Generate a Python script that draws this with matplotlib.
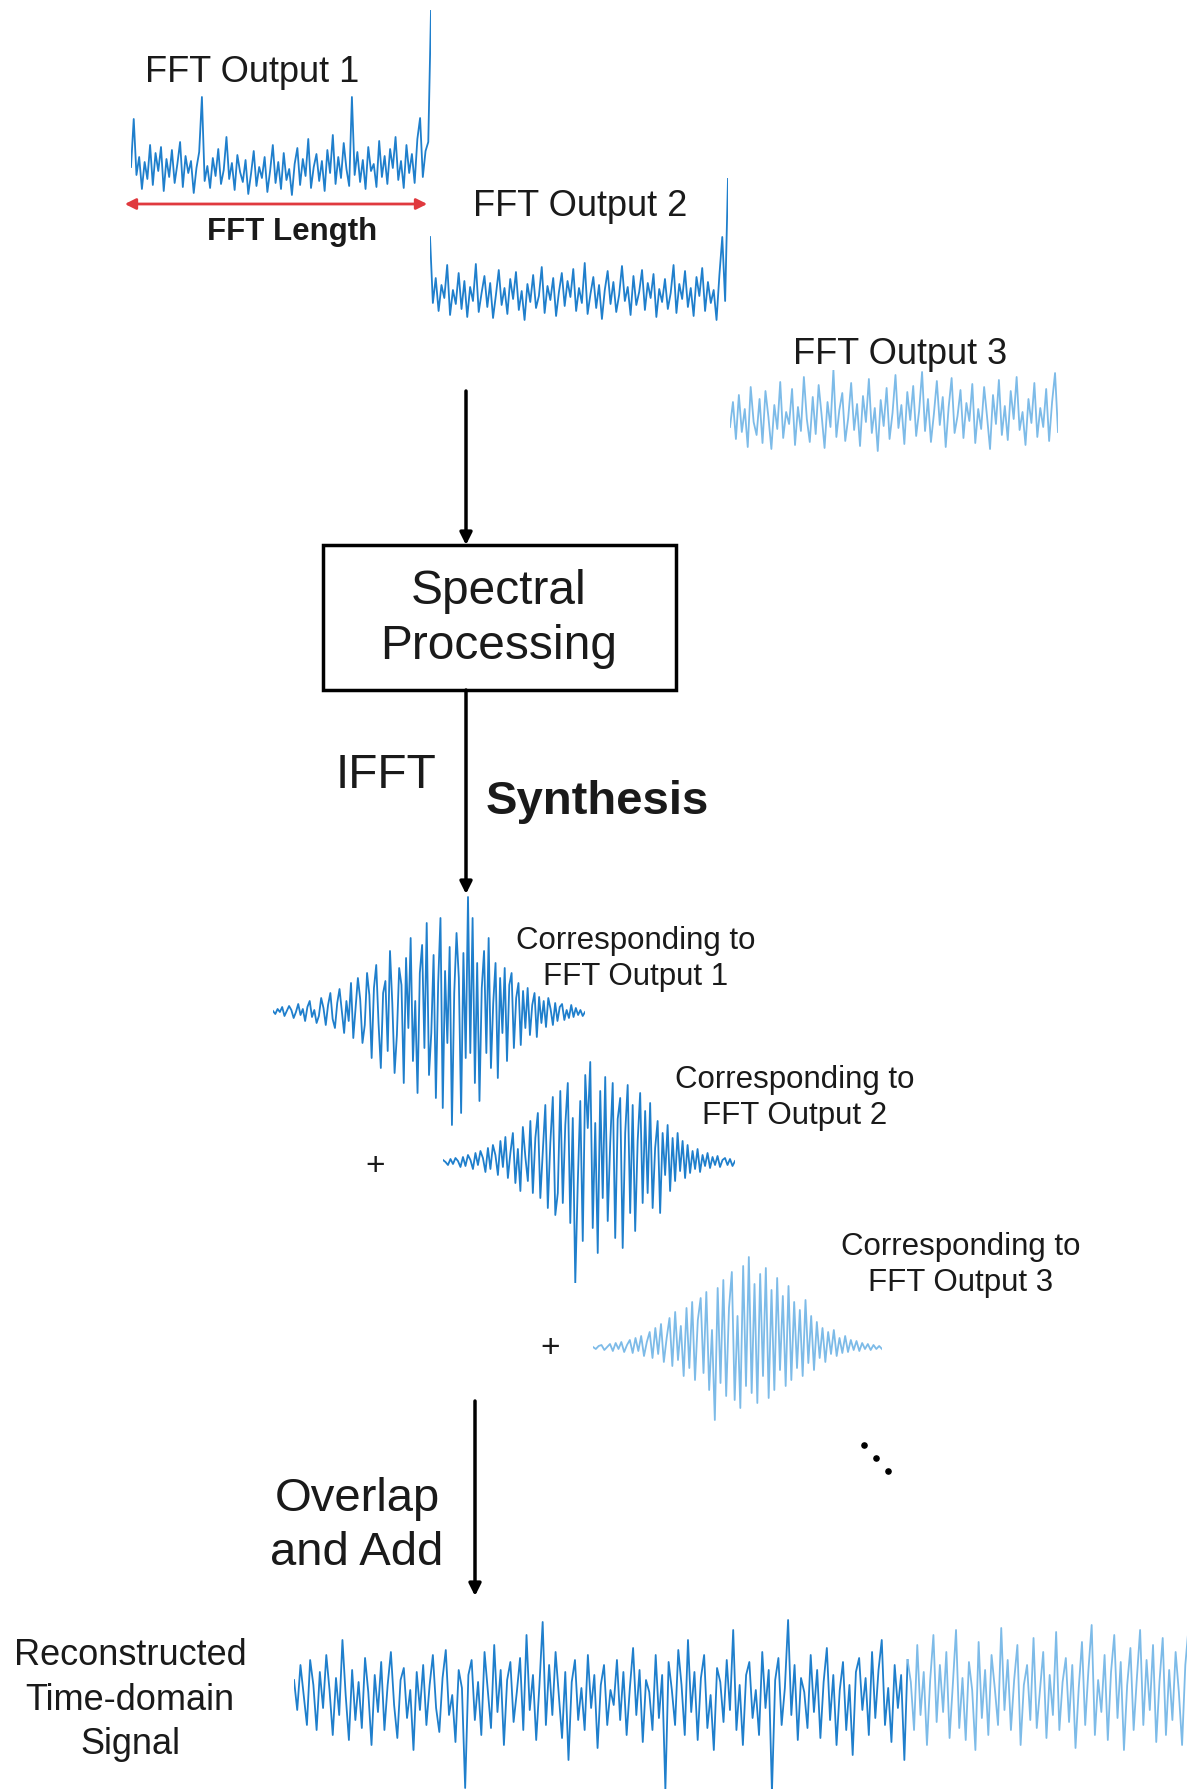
import matplotlib
matplotlib.use("Agg")
import matplotlib.pyplot as plt
from matplotlib.patches import Rectangle

plt.rcParams['font.family'] = ['Liberation Sans', 'DejaVu Sans']

# spectra magnitudes (arbitrary units)
fft1 = [30, 78, 22, 40, 8, 35, 18, 52, 12, 44, 26, 50, 6, 38, 20, 47, 14, 33, 55, 10,
        41, 24, 36, 4, 29, 45, 100, 16, 31, 9, 39, 21, 48, 13, 27, 60, 18, 34, 7, 42,
        25, 15, 37, 3, 23, 46, 11, 30, 19, 40, 5, 26, 52, 14, 35, 8, 44, 17, 28, 2,
        33, 49, 12, 38, 21, 58, 9, 30, 43, 16, 36, 6, 47, 24, 62, 13, 40, 19, 54, 28,
        11, 100, 22, 45, 15, 37, 8, 50, 26, 33, 10, 56, 20, 41, 13, 48, 29, 60, 17, 36,
        9, 52, 24, 43, 14, 58, 79, 20, 46, 55, 187]
fft2 = [86, 20, 45, 12, 38, 25, 58, 8, 33, 19, 50, 14, 42, 6, 36, 22, 59, 11, 30, 47,
        16, 40, 5, 28, 53, 18, 35, 9, 44, 24, 51, 13, 32, 3, 39, 21, 48, 15, 27, 56,
        10, 37, 23, 45, 7, 31, 50, 17, 42, 26, 54, 12, 35, 20, 60, 9, 29, 46, 15, 38,
        4, 33, 52, 19, 41, 11, 28, 57, 22, 36, 8, 47, 18, 31, 53, 13, 40, 25, 49, 6,
        34, 21, 44, 14, 30, 58, 10, 39, 24, 52, 16, 35, 7, 46, 27, 55, 12, 41, 20, 33,
        3, 48, 86, 22, 145]
fft3 = [30, 55, 18, 62, 25, 48, 10, 70, 35, 22, 58, 14, 66, 40, 8, 52, 28, 75, 19, 45,
        33, 68, 12, 50, 26, 80, 38, 15, 60, 23, 72, 42, 9, 55, 30, 87, 20, 47, 64, 16,
        39, 74, 27, 53, 11, 61, 35, 78, 24, 49, 6, 57, 31, 69, 18, 44, 82, 29, 52, 13,
        65, 37, 71, 21, 46, 85, 26, 58, 15, 43, 76, 32, 60, 10, 50, 79, 24, 41, 67, 19,
        54, 36, 73, 14, 48, 28, 70, 40, 8, 62, 33, 77, 22, 51, 17, 66, 38, 80, 27, 45,
        12, 58, 34, 74, 20, 49, 30, 68, 16, 55, 84, 25]

# windowed time-domain blocks after IFFT
w1 = [2, -1, 4, 1, 6, -3, 2, 7, 3, -5, 1, 9, -2, 4, -8, 6, 12, -4, 3, -10,
      -3, 15, 5, -12, 8, 20, -6, -15, 10, 24, 2, -20, 12, -8, 30, -25, 5, 35, 14, -30,
      -12, 40, 18, -45, 25, 48, -10, -55, 20, 32, -38, 62, 10, -60, -22, 45, 28, -70, 55, -15,
      75, -48, 12, -80, 40, 68, -35, 90, -62, -20, 58, -85, 30, 95, -95, 42, -30, 66, -112, 20,
      80, 35, -100, 60, -45, 116, -40, 95, -70, 50, -88, 25, 62, -40, 75, -55, 10, 50, -65, 35,
      -20, 45, -48, 28, 40, -35, 15, 30, -32, 22, -15, 25, -22, 8, 20, -24, 16, -10, 12, -14,
      15, 4, -12, 10, -8, 6, 9, -7, 3, -5, 8, -4, 5, -2, 3, -3, 1]
w2 = [3, 1, -2, 4, -1, 5, 2, -4, 6, -3, 8, 3, -6, 10, -2, 12, 5, -9, 15, -6,
      18, 8, -12, 22, -4, 26, -15, 10, 30, -20, 14, -28, 36, 6, -18, 42, -30, 25, 50, -35,
      12, 58, -45, 20, 66, -52, -30, 72, -40, 38, 80, -60, 45, -120, -20, 62, -78, 88, 35, 101,
      -65, 40, -90, 72, -35, 86, -58, 20, 80, -75, 44, 65, -85, 30, 78, -50, 58, -68, 22, 70,
      -40, 52, -30, 60, -45, 15, 42, -50, 30, -12, 38, -28, 25, -18, 30, -8, 22, -15, 18, -10,
      12, -6, 14, -9, 8, -3, 10, -5, 6, -2, 7, -4, 3, 5, -2, 4, -3, 2]
w3 = [1, -1, 2, 3, -2, 1, 4, -3, 5, -1, 6, -4, 3, 8, -5, 10, -3, 12, -8, 6,
      16, -10, 20, -6, 24, -14, 10, 30, -18, 36, -12, 22, -28, 40, -20, 46, -32, 28, 50, -25,
      56, -42, 18, -72, 60, -35, 68, -48, 40, 76, -52, 32, -60, 82, -38, 91, -45, 64, -55, 74,
      -28, 80, -50, 58, -42, 70, -22, 52, -38, 62, -32, 46, -20, 38, -28, 48, -15, 32, -22, 26,
      -10, 20, -14, 16, -6, 18, -8, 10, -5, 12, -4, 8, -2, 7, -3, 5, -1, 4, -2, 3,
      -1, 2, -1]

# overlap-added output signal
recon = [20, -10, 35, 5, -25, 40, 15, -30, 28, -8, 45, 10, -35, 22, -15, 60, 5, -40, 30, -20,
         18, -28, 42, 8, -45, 25, -12, 38, -30, 15, 48, -5, -38, 20, 32, -18, 10, -50, 28, -10,
         35, -25, 15, 45, -8, -32, 22, 50, -15, 5, -42, 30, 12, -88, 25, 40, -20, 18, -35, 48,
         10, -28, 55, -12, 30, -45, 20, 38, -22, 8, 42, -30, 65, -10, 25, -40, 15, 78, -25, 35,
         -15, 48, 5, -38, 28, -60, 18, 40, -20, 12, -30, 45, -8, 25, -48, 15, 35, -25, 10, -5,
         40, -20, 28, -35, 12, 52, -15, 30, -42, 20, 8, -30, 45, -18, 25, -90, 38, 10, -25, 50,
         15, -35, 60, -12, 28, -40, 22, 45, -28, 5, -50, 32, 18, -22, 40, -10, 70, -30, 15, -45,
         25, 38, -18, 10, -35, 48, -8, 30, -92, 20, 42, -25, 12, 80, -15, 35, -40, 22, 8, -28,
         45, -12, 30, -38, 18, 52, -20, 25, -45, 10, 38, -30, 15, -55, 28, 42, -10, 22, -35, 48,
         -18, 30, 60, -25, 12, -42, 35, -8, 25, -60, 40, 18, -30, 55, -15, 28, -45, 20, 65, -22,
         35, -12, 48, -38, 15, 70, -28, 22, -40, 38, 10, -50, 58, -18, 30, -35, 45, 12, -25, 72,
         -10, 40, -30, 20, 55, -45, 15, 35, -20, 62, -28, 10, 48, -38, 25, -15, 68, -30, 18, 42,
         -22, 35, -48, 12, 58, -25, 30, 75, -35, 20, -12, 45, -40, 28, 65, -18, 38, -50, 15, 52,
         -30, 22, 70, -25, 40, -10, 55, -42, 18, 62, -35, 30, -20, 48, 8, -45, 35, 72, -28, 40]

W, H = 1187, 1789
dark = '#1f7fcc'
light = '#7dbbe8'
txt = '#1a1a1a'

fig = plt.figure(figsize=(W / 100, H / 100), dpi=100)
ax = fig.add_axes([0, 0, 1, 1])
ax.set_xlim(0, W)
ax.set_ylim(H, 0)
ax.axis('off')


def sub_axes(x0, y0, x1, y1):
    a = fig.add_axes([x0 / W, 1 - y1 / H, (x1 - x0) / W, (y1 - y0) / H])
    a.axis('off')
    a.patch.set_alpha(0)
    return a


def spectrum(vals, rect, top, color):
    a = sub_axes(*rect)
    a.plot(range(len(vals)), vals, color=color, lw=1.3)
    a.set_xlim(0, len(vals) - 1)
    a.set_ylim(0, top)


def block(vals, x0, x1, base, color):
    a = sub_axes(x0, base - 120, x1, base + 120)
    a.plot(range(len(vals)), vals, color=color, lw=1.3)
    a.set_xlim(0, len(vals) - 1)
    a.set_ylim(-120, 120)


# spectra
spectrum(fft1, (131, 10, 431, 197), 187, dark)
spectrum(fft2, (430, 178, 728, 323), 145, dark)
spectrum(fft3, (730, 370, 1058, 457), 87, light)

ax.text(252, 72, 'FFT Output 1', fontsize=26, ha='center', va='center', color=txt)
ax.text(580, 207, 'FFT Output 2', fontsize=26, ha='center', va='center', color=txt)
ax.text(900, 355, 'FFT Output 3', fontsize=26, ha='center', va='center', color=txt)

ax.annotate('', xy=(122, 204), xytext=(430, 204),
            arrowprops=dict(arrowstyle='<|-|>', color='#e0393e', lw=2, mutation_scale=16))
ax.text(292, 232, 'FFT Length', fontsize=22.5, fontweight='bold', ha='center', va='center',
        color=txt)

# processing box and arrows
arrow = dict(arrowstyle='-|>', color='black', lw=2.5, mutation_scale=18, shrinkA=0, shrinkB=0)
ax.annotate('', xy=(466, 545), xytext=(466, 391), arrowprops=arrow)
ax.add_patch(Rectangle((323, 545), 353, 145, fill=False, lw=2.5, ec='black'))
ax.text(499, 619, 'Spectral\nProcessing', fontsize=34.5, ha='center', va='center',
        linespacing=1.3, color=txt)
ax.annotate('', xy=(466, 894), xytext=(466, 690), arrowprops=arrow)
ax.text(386, 776, 'IFFT', fontsize=34.5, ha='center', va='center', color=txt)
ax.text(597, 802, 'Synthesis', fontsize=34, fontweight='bold', ha='center', va='center',
        color=txt)

# windowed blocks
block(w1, 273, 585, 1013, dark)
block(w2, 443, 735, 1163, dark)
block(w3, 593, 882, 1348, light)

for x, y, n in [(636, 959, 1), (795, 1098, 2), (961, 1265, 3)]:
    ax.text(x, y, 'Corresponding to\nFFT Output %d' % n, fontsize=22.5, ha='center',
            va='center', linespacing=1.3, color=txt)
ax.text(375, 1166, '+', fontsize=24, ha='center', va='center', color=txt)
ax.text(550, 1349, '+', fontsize=24, ha='center', va='center', color=txt)
ax.scatter([864, 876, 888], [1445, 1458, 1471], s=14, color='black')

ax.annotate('', xy=(475, 1596), xytext=(475, 1401), arrowprops=arrow)
ax.text(357, 1526, 'Overlap\nand Add', fontsize=34, ha='center', va='center',
        linespacing=1.3, color=txt)

# reconstructed signal
split = 190
ra = sub_axes(294, 1610, 1195, 1790)
ra.plot(range(split + 1), recon[:split + 1], color=dark, lw=1.3)
ra.plot(range(split, len(recon)), recon[split:], color=light, lw=1.3)
ra.set_xlim(0, len(recon) - 1)
ra.set_ylim(-90, 90)
ax.text(130, 1700, 'Reconstructed\nTime-domain\nSignal', fontsize=26, ha='center',
        va='center', linespacing=1.35, color=txt)

fig.savefig('out.png', dpi=100)
